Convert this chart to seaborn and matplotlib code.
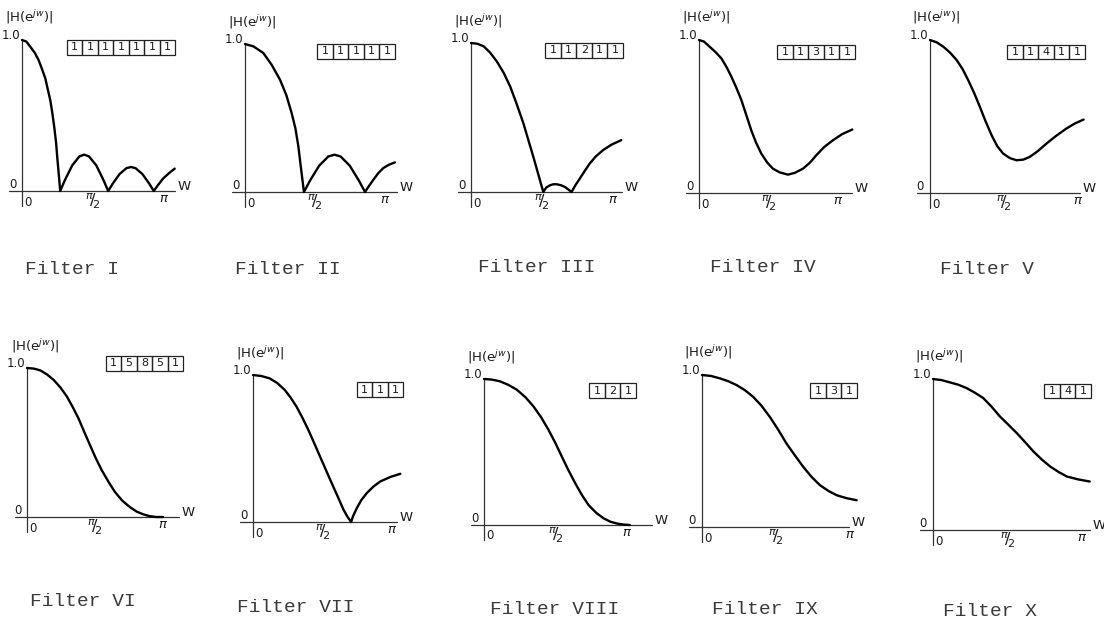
import matplotlib
matplotlib.use("Agg")
import matplotlib.pyplot as plt
from matplotlib.patches import Rectangle
import seaborn as sns

# filter names and their coefficient boxes
names = ["Filter I", "Filter II", "Filter III", "Filter IV", "Filter V",
         "Filter VI", "Filter VII", "Filter VIII", "Filter IX", "Filter X"]
coefs = [[1, 1, 1, 1, 1, 1, 1], [1, 1, 1, 1, 1], [1, 1, 2, 1, 1], [1, 1, 3, 1, 1], [1, 1, 4, 1, 1],
         [1, 5, 8, 5, 1], [1, 1, 1], [1, 2, 1], [1, 3, 1], [1, 4, 1]]

# |H(e^jw)|, w in units of pi
f1_w = [0, 0.03, 0.058, 0.09, 0.117, 0.14, 0.164, 0.18, 0.199, 0.213, 0.227, 0.24, 0.25, 0.26, 0.269,
        0.303, 0.354, 0.404, 0.438, 0.472, 0.523, 0.573, 0.607,
        0.639, 0.687, 0.735, 0.768, 0.8, 0.848, 0.896, 0.928, 0.96, 0.993, 1.035, 1.075]
f1_h = [1.0, 0.99, 0.956, 0.915, 0.867, 0.81, 0.746, 0.68, 0.602, 0.52, 0.425, 0.32, 0.204, 0.1, 0.0,
        0.074, 0.17, 0.229, 0.241, 0.229, 0.17, 0.074, 0.0,
        0.049, 0.112, 0.151, 0.159, 0.151, 0.112, 0.049, 0.0, 0.042, 0.082, 0.118, 0.148]
f2_w = [0, 0.06, 0.131, 0.19, 0.25, 0.295, 0.333, 0.36, 0.381, 0.4, 0.421,
        0.465, 0.53, 0.595, 0.639, 0.683, 0.748, 0.813, 0.857,
        0.885, 0.917, 0.95, 0.988, 1.03, 1.071]
f2_h = [1.0, 0.984, 0.939, 0.86, 0.759, 0.655, 0.534, 0.43, 0.309, 0.16, 0.0,
        0.078, 0.178, 0.24, 0.252, 0.24, 0.178, 0.078, 0.0,
        0.04, 0.083, 0.125, 0.162, 0.185, 0.2]
f3_w = [0, 0.045, 0.089, 0.135, 0.182, 0.23, 0.276, 0.32, 0.369, 0.405, 0.439, 0.475, 0.509,
        0.53, 0.556, 0.58, 0.603, 0.635, 0.661, 0.688, 0.708,
        0.735, 0.766, 0.8, 0.836, 0.88, 0.93, 0.99, 1.058]
f3_h = [1.0, 0.995, 0.978, 0.935, 0.876, 0.8, 0.708, 0.595, 0.461, 0.345, 0.236, 0.115, 0.0,
        0.03, 0.045, 0.052, 0.052, 0.045, 0.034, 0.015, 0.0,
        0.045, 0.09, 0.14, 0.191, 0.24, 0.281, 0.318, 0.348]
f4_w = [0, 0.035, 0.077, 0.12, 0.161, 0.2, 0.233, 0.27, 0.305, 0.34, 0.376, 0.41, 0.448, 0.49, 0.532,
        0.58, 0.64, 0.69, 0.748, 0.8, 0.844, 0.9, 0.964, 1.03, 1.103]
f4_h = [1.0, 0.99, 0.956, 0.92, 0.88, 0.82, 0.76, 0.685, 0.607, 0.51, 0.41, 0.33, 0.258, 0.2, 0.159,
        0.135, 0.12, 0.132, 0.159, 0.2, 0.247, 0.3, 0.345, 0.385, 0.415]
f5_w = [0, 0.045, 0.09, 0.135, 0.18, 0.22, 0.258, 0.3, 0.337, 0.375, 0.416, 0.455, 0.494, 0.54,
        0.584, 0.63, 0.674, 0.73, 0.787, 0.85, 0.921, 0.98, 1.038]
f5_h = [1.0, 0.985, 0.956, 0.918, 0.869, 0.81, 0.738, 0.65, 0.563, 0.47, 0.378, 0.305, 0.258, 0.228,
        0.214, 0.218, 0.236, 0.275, 0.323, 0.372, 0.421, 0.455, 0.48]
f6_w = [0, 0.05, 0.098, 0.145, 0.195, 0.245, 0.293, 0.335, 0.378, 0.42, 0.463, 0.505, 0.549, 0.6,
        0.646, 0.7, 0.756, 0.805, 0.854, 0.9, 0.951, 1.0]
f6_h = [1.0, 0.996, 0.984, 0.958, 0.921, 0.87, 0.809, 0.74, 0.663, 0.573, 0.483, 0.396, 0.315, 0.235,
        0.169, 0.11, 0.067, 0.037, 0.018, 0.006, 0.0, 0.0]
f7_w = [0, 0.06, 0.12, 0.175, 0.229, 0.27, 0.313, 0.355, 0.398, 0.44, 0.482, 0.524, 0.566, 0.61,
        0.651, 0.68, 0.706, 0.72, 0.747, 0.78, 0.819, 0.865, 0.916, 0.99, 1.06]
f7_h = [1.0, 0.993, 0.977, 0.945, 0.898, 0.847, 0.785, 0.71, 0.627, 0.537, 0.446, 0.355, 0.265, 0.172,
        0.084, 0.035, 0.0, 0.04, 0.095, 0.15, 0.197, 0.24, 0.276, 0.307, 0.328]
f8_w = [0, 0.055, 0.112, 0.17, 0.229, 0.29, 0.346, 0.4, 0.451, 0.5, 0.544, 0.59, 0.638, 0.685,
        0.731, 0.785, 0.836, 0.885, 0.93, 0.975, 1.02]
f8_h = [1.0, 0.996, 0.984, 0.96, 0.927, 0.875, 0.812, 0.737, 0.652, 0.56, 0.469, 0.376, 0.286, 0.205,
        0.137, 0.083, 0.046, 0.022, 0.01, 0.003, 0.0]
f9_w = [0, 0.06, 0.12, 0.175, 0.233, 0.29, 0.345, 0.4, 0.458, 0.515, 0.571, 0.63, 0.684, 0.74,
        0.797, 0.855, 0.91, 0.975, 1.045]
f9_h = [1.0, 0.994, 0.978, 0.96, 0.934, 0.9, 0.857, 0.8, 0.725, 0.64, 0.549, 0.468, 0.396, 0.33,
        0.275, 0.237, 0.209, 0.19, 0.176]
f10_w = [0, 0.056, 0.112, 0.17, 0.225, 0.28, 0.337, 0.39, 0.449, 0.505, 0.562, 0.62, 0.674, 0.73,
         0.787, 0.845, 0.899, 0.975, 1.052]
f10_h = [1.0, 0.993, 0.978, 0.962, 0.94, 0.91, 0.874, 0.82, 0.752, 0.698, 0.642, 0.58, 0.52, 0.467,
         0.42, 0.383, 0.354, 0.335, 0.321]

curves = [(f1_w, f1_h), (f2_w, f2_h), (f3_w, f3_h), (f4_w, f4_h), (f5_w, f5_h),
          (f6_w, f6_h), (f7_w, f7_h), (f8_w, f8_h), (f9_w, f9_h), (f10_w, f10_h)]

# layout in image pixels (origin of each little plot, pi on x, 1.0 on y)
W, H = 1104, 627
origin_x = [22, 245, 471, 699, 930, 27, 253, 484, 702, 933]
origin_y = [191, 192, 192, 193, 193, 517, 522, 525, 527, 530]
pi_x = [164, 385, 613, 838, 1078, 163, 392, 627, 850, 1082]
top_y = [40, 44, 43, 40, 40, 368, 375, 379, 375, 379]
w_px = [178, 400, 625, 855, 1083, 182, 400, 655, 852, 1093]
box_right = [1.08, 1.07, 1.07, 1.12, 1.045, 1.15, 1.08, 1.06, 1.045, 1.06]
box_top = [1.0, 1.0, 1.0, 0.97, 0.97, 1.08, 0.95, 0.97, 0.945, 0.97]
label_x = [25, 235, 478, 710, 940, 30, 237, 490, 712, 943]
label_y = [270, 270, 268, 268, 270, 602, 608, 610, 609, 612]

sns.set_style("white")
plt.rcParams['font.family'] = ['DejaVu Sans']
ink = "#1a1a1a"

fig = plt.figure(figsize=(W / 100, H / 100), dpi=100)

lo, hi = -0.2, 1.3
for i in range(10):
    sx = pi_x[i] - origin_x[i]
    sy = origin_y[i] - top_y[i]
    left = (origin_x[i] + lo * sx) / W
    bottom = 1 - (origin_y[i] - lo * sy) / H
    ax = fig.add_axes([left, bottom, (hi - lo) * sx / W, (hi - lo) * sy / H])
    ax.set_xlim(lo, hi)
    ax.set_ylim(lo, hi)
    ax.axis("off")

    wx = (w_px[i] - origin_x[i]) / sx

    # hand drawn axes
    ax.plot([-0.09, wx - 0.02], [0, 0], color="#333333", lw=0.9)
    ax.plot([0, 0], [-0.1, 1.0], color="#333333", lw=0.9)

    w, h = curves[i]
    sns.lineplot(x=w, y=h, ax=ax, color="black", lw=1.7, estimator=None,
                 sort=False, solid_joinstyle="round", solid_capstyle="round")

    ax.text(-0.12, 1.15, "|H(e$^{jw}$)|", fontsize=9.5, color=ink, ha="left", va="center")
    ax.text(-0.01, 1.03, "1.0", fontsize=8.5, color=ink, ha="right", va="center")
    ax.text(-0.04, 0.045, "0", fontsize=8.5, color=ink, ha="right", va="center")
    ax.text(0.015, -0.075, "0", fontsize=8.5, color=ink, ha="left", va="center")
    ax.text(0.5, -0.005, r"$^{\pi}\!/\!_{2}$", fontsize=11.5, color=ink, ha="center", va="top")
    ax.text(1.0, -0.005, r"$\pi$", fontsize=9.5, color=ink, ha="center", va="top")
    ax.text(wx, 0.03, "W", fontsize=9.5, color=ink, ha="left", va="center")

    # coefficient box
    cw = 15.5 / sx
    ch = 14.5 / sy
    n = len(coefs[i])
    x0 = box_right[i] - n * cw
    y0 = box_top[i] - ch
    for k, c in enumerate(coefs[i]):
        ax.add_patch(Rectangle((x0 + k * cw, y0), cw, ch, fill=False,
                               edgecolor="#222222", lw=0.9))
        ax.text(x0 + (k + 0.5) * cw, y0 + ch / 2, str(c), fontsize=8,
                color=ink, ha="center", va="center")

    fig.text(label_x[i] / W, 1 - label_y[i] / H, names[i], family="Liberation Mono",
             fontsize=14, color="#3a3a3a", ha="left", va="center")

fig.savefig("out.png", dpi=100, facecolor="white")
